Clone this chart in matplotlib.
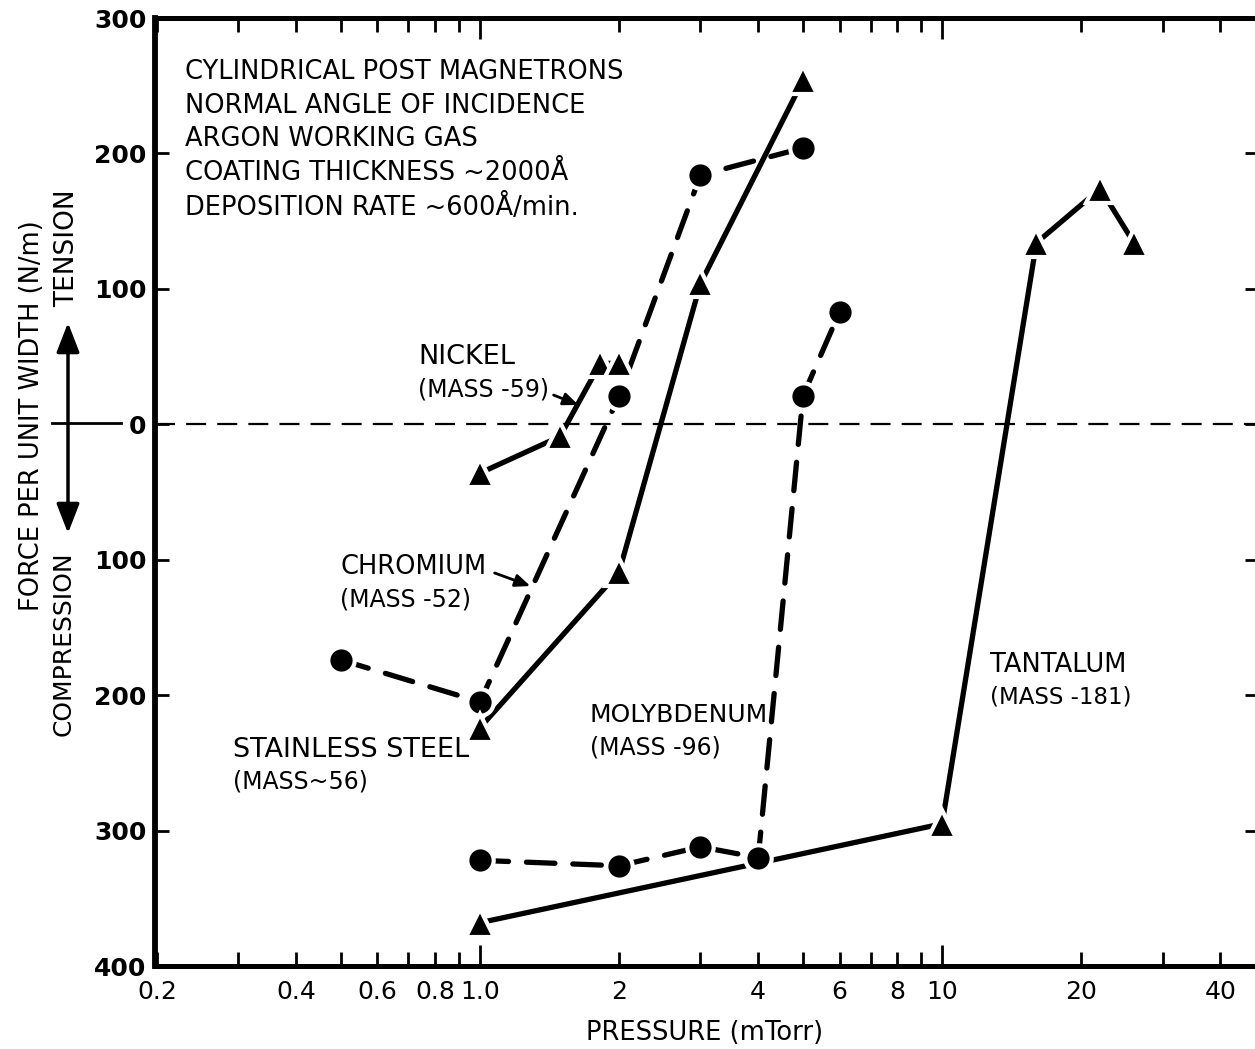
import matplotlib
matplotlib.use("Agg")
import matplotlib.pyplot as plt
from matplotlib.ticker import FixedLocator, FixedFormatter, FuncFormatter

# ---------------- data ----------------
chromium_p = [0.5, 1.0, 2.0, 3.0, 5.0]
chromium_f = [-174, -205, 21, 184, 204]

steel_p = [1.0, 2.0, 3.0, 5.0]
steel_f = [-224, -109, 104, 254]

nickel_p = [1.0, 1.49, 1.82, 2.0]
nickel_f = [-36, -9, 45, 45]

molybdenum_p = [1.0, 2.0, 3.0, 4.0, 5.0, 6.0]
molybdenum_f = [-322, -326, -312, -320, 21, 83]

tantalum_p = [1.0, 10.0, 16.0, 22.0, 26.0]
tantalum_f = [-368, -295, 134, 174, 134]

x_tick_vals = [0.2, 0.4, 0.6, 0.8, 1.0, 2, 4, 6, 8, 10, 20, 40]
x_tick_labels = ["0.2", "0.4", "0.6", "0.8", "1.0", "2", "4", "6", "8", "10", "20", "40"]
x_minor_vals = [0.3, 0.5, 0.7, 0.9, 3, 5, 7, 9, 30]
y_tick_vals = [300, 200, 100, 0, -100, -200, -300, -400]

info_lines = ["CYLINDRICAL POST MAGNETRONS",
              "NORMAL ANGLE OF INCIDENCE",
              "ARGON WORKING GAS",
              "COATING THICKNESS ~2000Å",
              "DEPOSITION RATE ~600Å/min."]

FONT = ["DejaVu Sans"]
plt.rcParams['font.family'] = FONT

W, H = 1255, 1049
fig = plt.figure(figsize=(W / 100, H / 100), dpi=100)


def P(x, y):
    return (x / W, 1 - y / H)


ax = fig.add_axes([155 / W, 1 - 966 / H, (1259 - 155) / W, (966 - 18) / H])
ax.set_xscale('log')
ax.set_xlim(0.198, 48.5)
ax.set_ylim(-400, 300)

# zero line
ax.axhline(0, color='black', lw=1.6, dashes=(9, 5), zorder=1)

LW = 3.8
dash = dict(dashes=(5.4, 3.4), dash_capstyle='round')


def series(p, f, dashed):
    kw = dict(color='black', lw=LW, solid_capstyle='round', zorder=2)
    if dashed:
        kw.update(dash)
    ax.plot(p, f, **kw)


series(chromium_p, chromium_f, True)
series(steel_p, steel_f, False)
series(nickel_p, nickel_f, False)
series(molybdenum_p, molybdenum_f, True)
series(tantalum_p, tantalum_f, False)

for p, f, m in [(chromium_p, chromium_f, 'o'), (steel_p, steel_f, '^'),
                (nickel_p, nickel_f, '^'), (molybdenum_p, molybdenum_f, 'o'),
                (tantalum_p, tantalum_f, '^')]:
    if m == 'o':
        ax.plot(p, f, 'o', ms=19, mfc='black', mec='white', mew=3.0, ls='none', zorder=3)
    else:
        ax.plot(p, f, '^', ms=20, mfc='black', mec='white', mew=3.0, ls='none', zorder=3)

# spines
for s in ax.spines.values():
    s.set_linewidth(3.6)
ax.spines['left'].set_linewidth(4.2)

# ticks
ax.xaxis.set_major_locator(FixedLocator(x_tick_vals))
ax.xaxis.set_major_formatter(FixedFormatter(x_tick_labels))
ax.xaxis.set_minor_locator(FixedLocator(x_minor_vals))
ax.xaxis.set_minor_formatter(FuncFormatter(lambda v, pos: ""))
ax.yaxis.set_major_locator(FixedLocator(y_tick_vals))
ax.yaxis.set_major_formatter(FuncFormatter(lambda v, pos: f"{abs(int(round(v)))}"))
ax.tick_params(axis='x', which='both', direction='in', top=True, bottom=True,
               length=10, width=2, pad=10, labelsize=18)
ax.tick_params(axis='y', which='both', direction='in', left=True, right=True,
               length=10, width=2, pad=6, labelsize=18)
for lab in ax.get_yticklabels():
    lab.set_fontweight('bold')
# longer ticks at decades
for t, v in zip(ax.xaxis.get_major_ticks(), x_tick_vals):
    if v in (1.0, 10):
        t.tick1line.set_markersize(15)
        t.tick2line.set_markersize(15)

# info text
ys = [72, 106, 139, 173, 207]
for line, y in zip(info_lines, ys):
    fig.text(*P(185, y), line, fontsize=18.5, va='center', ha='left')


# labels for series
def lab(x, y, s, size=18.5):
    fig.text(*P(x, y), s, fontsize=size, va='center', ha='left')


lab(418, 357, "NICKEL", 19.5)
lab(418, 389, "(MASS -59)", 17)
lab(340, 567, "CHROMIUM", 18.5)
lab(340, 600, "(MASS -52)", 17)
lab(233, 750, "STAINLESS STEEL", 19.5)
lab(233, 782, "(MASS~56)", 17)
lab(590, 715, "MOLYBDENUM", 18)
lab(590, 747, "(MASS -96)", 17)
lab(990, 665, "TANTALUM", 18.5)
lab(990, 697, "(MASS -181)", 16.5)

arrow_kw = dict(arrowstyle='-|>,head_length=0.6,head_width=0.25', color='black', lw=2)
fig.add_artist(matplotlib.patches.FancyArrowPatch(P(551, 394), P(581, 406),
               transform=fig.transFigure, mutation_scale=15, **arrow_kw))
fig.add_artist(matplotlib.patches.FancyArrowPatch(P(492, 572), P(533, 587),
               transform=fig.transFigure, mutation_scale=15, **arrow_kw))

# y label block
fig.text(*P(32, 416), "FORCE PER UNIT WIDTH (N/m)", rotation=90, fontsize=18.5,
         va='center', ha='center')
fig.text(*P(67, 248), "TENSION", rotation=90, fontsize=19, va='center', ha='center')
fig.text(*P(64, 644), "COMPRESSION", rotation=90, fontsize=18, va='center', ha='center')
fig.add_artist(matplotlib.patches.FancyArrowPatch(P(68, 536), P(68, 320),
               transform=fig.transFigure, arrowstyle='<|-|>,head_length=0.9,head_width=0.35',
               mutation_scale=20, color='black', lw=2.5))
fig.add_artist(matplotlib.lines.Line2D([52 / W, 121 / W], [1 - 423 / H] * 2,
               transform=fig.transFigure, color='black', lw=2))

fig.text(*P(705, 1033), "PRESSURE (mTorr)", fontsize=18.5, va='center', ha='center')

fig.savefig("out.png", dpi=100)
